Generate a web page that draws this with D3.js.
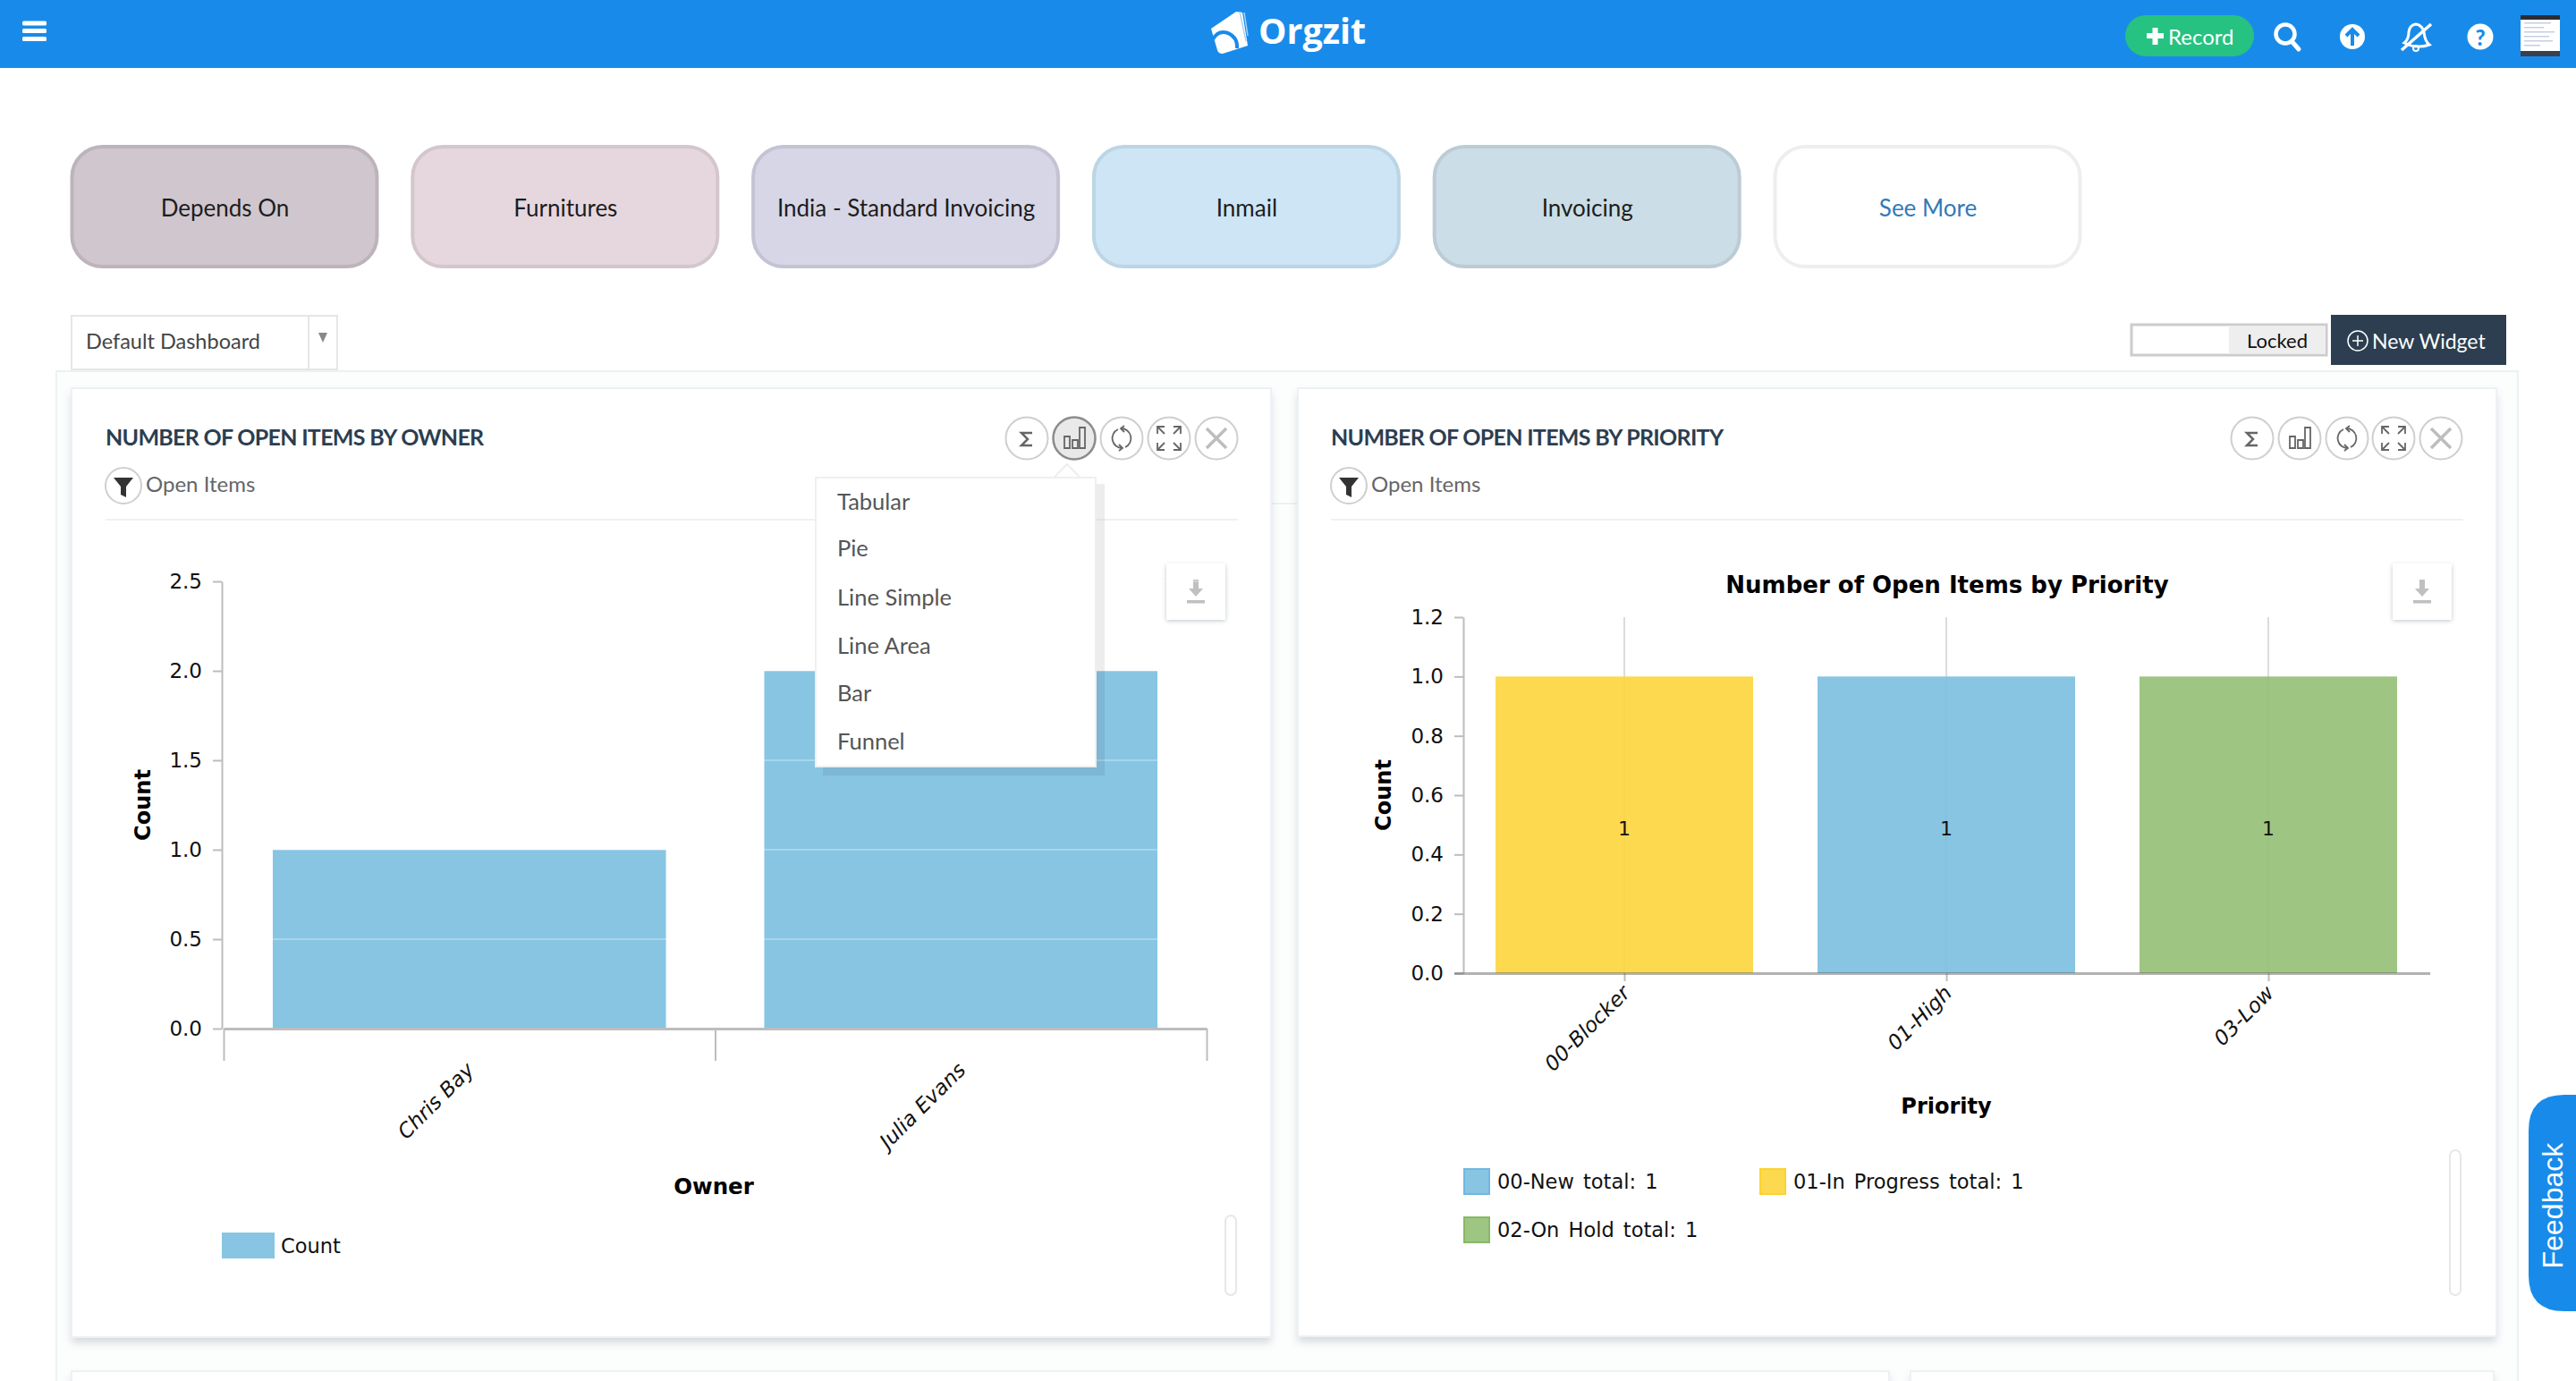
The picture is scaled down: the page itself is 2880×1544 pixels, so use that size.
<!DOCTYPE html>
<html>
<head>
<meta charset="utf-8">
<script src="https://cdn.jsdelivr.net/npm/d3@7/dist/d3.min.js"></script>
<style>
html,body{margin:0;padding:0;background:#fff;overflow:hidden}
svg{display:block}
.ui{font-family:Lato,sans-serif}
.ch{font-family:"DejaVu Sans",sans-serif}
</style>
</head>
<body>
<svg id="page" width="2880" height="1544" viewBox="0 0 2880 1544"></svg>
<script>
// ---- data ----
const tabNames = ["Depends On","Furnitures","India - Standard Invoicing","Inmail","Invoicing","See More"];
const menuItems = ["Tabular","Pie","Line Simple","Line Area","Bar","Funnel"];

const ownerCategories = ["Chris Bay","Julia Evans"];
const ownerCounts = [1,2];
const ownerLegend = ["Count"];

const priorityCategories = ["00-Blocker","01-High","03-Low"];
const priorityCounts = [1,1,1];
const priorityLegend = ["00-New total: 1","01-In Progress total: 1","02-On Hold total: 1"];

// ---- styles ----
const tabFill = ["#d0c6ce","#e6d7df","#d7d6e6","#cde5f5","#cbdde6","#ffffff"];
const tabEdge = ["#bdb3bb","#d3c6cd","#c4c3d4","#bcd5e4","#bccbd5","#eeeeee"];
const blue="#87c5e3", yellow="#fdd950", green="#9ec682";
const priorityColors=["#fdd53d","#7abfe0","#93c074"];
const legendColors=[blue,yellow,green];
const legendEdges=["#6fb9e0","#fdd22f","#88b868"];
const axisC="#bdbdbd";

const svg=d3.select("#page");
const defs=svg.append("defs");
function blurF(id,s){defs.append("filter").attr("id",id).attr("x","-20%").attr("y","-20%").attr("width","140%").attr("height","140%")
  .append("feGaussianBlur").attr("stdDeviation",s);}
blurF("sh6",5); blurF("sh3",2.5);
function rect(p,x,y,w,h,fill,o={}){const r=p.append("rect").attr("x",x).attr("y",y).attr("width",w).attr("height",h).attr("fill",fill);
  for(const k in o) r.attr(k,o[k]); return r;}
function text(p,x,y,t,o={}){const e=p.append("text").attr("x",x).attr("y",y).attr("dominant-baseline","central").text(t);
  for(const k in o) e.attr(k,o[k]); return e;}
function line(p,x1,y1,x2,y2,c,w){return p.append("line").attr("x1",x1).attr("y1",y1).attr("x2",x2).attr("y2",y2).attr("stroke",c).attr("stroke-width",w);}

// ---- header ----
const ui=svg.append("g").attr("class","ui");
rect(ui,0,0,2880,76,"#188bea");
[23.5,32,41].forEach(y=>rect(ui,25,y,27,5,"#fff",{rx:1.5}));
// logo
const logo=ui.append("g");
logo.append("path").attr("d","M1382 13 L1389 14 L1395 51 L1367 60 Q1362 60 1361 56 L1354 32 Z").attr("fill","#fff");
logo.append("path").attr("d","M1386 13 L1393 46 M1391 14 L1395 40").attr("stroke","#a9d3f5").attr("stroke-width",1.5).attr("fill","none");
logo.append("path").attr("d","M1356 44 Q1362 33 1373 37 Q1384 42 1383 54").attr("stroke","#188bea").attr("stroke-width",4).attr("fill","none");
text(ui,1407,34,"Orgzit",{fill:"#fff","font-family":"Open Sans","font-weight":700,"font-size":39.5});
// record pill
rect(ui,2376,17,144,46,"#26c281",{rx:23});
ui.append("path").attr("d","M2400 40 H2419 M2409.5 31 V50").attr("stroke","#fff").attr("stroke-width",6).attr("fill","none");
text(ui,2424,40,"Record",{fill:"#fff","font-size":24});
// search
ui.append("circle").attr("cx",2555).attr("cy",38).attr("r",10.5).attr("fill","none").attr("stroke","#fff").attr("stroke-width",4.5);
line(ui,2562,46,2570,55,"#fff",5).attr("stroke-linecap","round");
// upload
ui.append("circle").attr("cx",2630).attr("cy",41).attr("r",14).attr("fill","#fff");
ui.append("path").attr("d","M2630 51 V34 M2623 40 L2630 33 L2637 40").attr("stroke","#188bea").attr("stroke-width",4).attr("fill","none");
// bell
ui.append("path").attr("d","M2688 48 Q2693 44 2693 36 Q2694 28 2701 27 Q2708 28 2710 36 Q2711 46 2716 50 Q2702 55 2688 48 Z").attr("fill","none").attr("stroke","#fff").attr("stroke-width",3);
line(ui,2685,56,2718,27,"#fff",3.5);
ui.append("circle").attr("cx",2701).attr("cy",54).attr("r",3).attr("fill","none").attr("stroke","#fff").attr("stroke-width",2);
// help
ui.append("circle").attr("cx",2773).attr("cy",41).attr("r",14.5).attr("fill","#fff");
text(ui,2773,41,"?",{fill:"#188bea","font-size":24,"font-weight":900,"text-anchor":"middle"});
// thumbnail
rect(ui,2818,17,44,46,"#fff",{rx:3});
rect(ui,2818,17,44,5,"#2b2b33");
rect(ui,2818,57,44,6,"#39404d");
d3.range(6).forEach(i=>rect(ui,2822,25+i*5,[30,22,34,28,32,18][i],1.5,"#c5cfdf"));

// ---- tabs ----
const tabX=d3.scalePoint().domain(tabNames).range([79,1983]);
const tabs=ui.selectAll("g.tab").data(tabNames).join("g").attr("class","tab");
tabs.append("rect").attr("x",d=>tabX(d)+1.5).attr("y",164).attr("width",341).attr("height",134).attr("rx",34)
  .attr("fill",(d,i)=>tabFill[i]).attr("stroke",(d,i)=>tabEdge[i]).attr("stroke-width",4);
tabs.append("text").attr("x",d=>tabX(d)+172.5).attr("y",232).attr("text-anchor","middle").attr("dominant-baseline","central")
  .attr("font-size",26).attr("fill",(d,i)=>i===5?"#337ab7":"#1d1d1d").text(d=>d);

// ---- dashboard select + toolbar ----
rect(ui,80,353,297,60,"#fff",{stroke:"#e6e6e6","stroke-width":2});
line(ui,345,353,345,413,"#e6e6e6",2);
text(ui,96,380.5,"Default Dashboard",{"font-size":23.5,fill:"#444"});
ui.append("path").attr("d","M356 372 H366 L361 383 Z").attr("fill","#888");
rect(ui,2383,363,218,34,"#fff",{stroke:"#ccc","stroke-width":3});
rect(ui,2492,364.5,108,31,"#eeeeee");
text(ui,2546,380,"Locked",{"font-size":22,"text-anchor":"middle",fill:"#111"});
rect(ui,2606,352,196,56,"#2c3e50");
ui.append("circle").attr("cx",2636).attr("cy",381).attr("r",11).attr("fill","none").attr("stroke","#fff").attr("stroke-width",1.5);
ui.append("path").attr("d","M2630 381 H2642 M2636 375 V387").attr("stroke","#fff").attr("stroke-width",1.5);
text(ui,2652,381,"New Widget",{"font-size":23,fill:"#fff"});

// ---- container ----
rect(ui,63,415,2752,1140,"#fcfdfd",{stroke:"#edf1f5","stroke-width":2});
line(ui,1421,563,1451,563,"#edf1f5",2);
function card(x,y,w,h){
  rect(ui,x,y+6,w,h,"#8a96a3",{filter:"url(#sh6)",opacity:.35});
  rect(ui,x,y,w,h,"#fff",{stroke:"#edf1f5","stroke-width":2});
}
card(80,434,1341,1061);
card(1451,434,1340,1060);
card(80,1533,2032,60);
card(2136,1533,652,60);

// ---- widget header ----
function icons(cxs,activeIdx){
  const cy=490;
  cxs.forEach((cx,i)=>{
    const g=ui.append("g").attr("transform",`translate(${cx},${cy})`);
    g.append("circle").attr("r",23.5).attr("fill",i===activeIdx?"#e9e9e9":"#fff").attr("stroke",i===activeIdx?"#8c8c8c":"#cfcfcf").attr("stroke-width",i===activeIdx?2.5:2);
    const P=(d,w,c)=>g.append("path").attr("d",d).attr("fill","none").attr("stroke",c||"#666").attr("stroke-width",w||2);
    if(i===0)P("M6 -6 H-6 L1 1 L-6 8 H6",2.5);
    if(i===1){P("M-11 -2 h6 v13 h-6 Z M-2 2 h6 v9 h-6 Z M6 -12 h6 v23 h-6 Z",1.8);}
    if(i===2){P("M-4 -10 A11 11 0 0 0 1 11",1.8);P("M-3 7 L1 11 L-3 14",1.8);P("M4 10 A11 11 0 0 0 -1 -11",1.8);P("M3 -14 L-1 -11 L3 -7",1.8);}
    if(i===3){P("M-5 -13 H-13 V-5 M-13 -13 L-5 -5 M5 -13 H13 V-5 M13 -13 L5 -5 M-5 13 H-13 V5 M-13 13 L-5 5 M5 13 H13 V5 M13 13 L5 5",1.8);}
    if(i===4){P("M-11 -11 L11 11 M11 -11 L-11 11",3.5,"#bdbdbd");}
  });
}
icons([1148,1201,1254,1307,1360],1);
icons([2518,2571,2624,2676,2729],-1);
function widgetHead(x,title,divEnd){
  text(ui,x,487.5,title,{"font-size":25,"font-weight":700,fill:"#2c3e50","letter-spacing":-0.7});
  const g=ui.append("g").attr("transform",`translate(${x+20},543)`);
  g.append("circle").attr("r",20).attr("fill","#fff").attr("stroke","#cfcfcf").attr("stroke-width",2);
  g.append("path").attr("d","M-11 -9 H11 L3 1 V13 L-3 10 V1 Z").attr("fill","#333");
  text(ui,x+45,540.5,"Open Items",{"font-size":24,fill:"#666"});
  rect(ui,x,580,divEnd-x,2,"#eff1f6");
}
widgetHead(118,"NUMBER OF OPEN ITEMS BY OWNER",1384);
widgetHead(1488,"NUMBER OF OPEN ITEMS BY PRIORITY",2754);

function download(x){
  rect(ui,x,632,66,62,"#8a96a3",{filter:"url(#sh3)",opacity:.55});
  rect(ui,x,630,66,63,"#fff");
  const c=x+33;
  ui.append("path").attr("d",`M${c-3} 648 h6 v10 h5 l-8 9 l-8 -9 h5 Z`).attr("fill","#c0c0c0");
  rect(ui,c-10,671,20,3.5,"#c0c0c0");
}
function scrollbar(x,y,h){rect(ui,x+1,y,12,h,"#fff",{rx:6,stroke:"#e7e7e7","stroke-width":2});}

// ---- chart helpers ----
const ch=svg.append("g").attr("class","ch");
function styleAxis(g){g.selectAll("path,line").attr("stroke",axisC).attr("stroke-width",2);
  g.selectAll("text").attr("font-family","DejaVu Sans").attr("font-size",23).attr("fill","#111");}
function xLabels(g,x,cats,ty,dx){
  g.selectAll("text.xl").data(cats).join("text").attr("class","xl")
   .attr("transform",d=>`translate(${x(d)+x.bandwidth()/2+dx},${ty}) rotate(-45)`)
   .attr("text-anchor","end").attr("dominant-baseline","central")
   .attr("font-size",23).attr("font-style","italic").attr("fill","#111").text(d=>d);
}

// ---- chart 1: owner ----
{
  const r=[250,1349];
  const x=d3.scaleBand().domain(ownerCategories).range(r).paddingInner(.2).paddingOuter(.1);
  const y=d3.scaleLinear().domain([0,2.5]).range([1150,650]);
  const g=ch.append("g");
  g.selectAll("rect.bar").data(ownerCategories).join("rect").attr("class","bar")
    .attr("x",d=>x(d)).attr("width",x.bandwidth())
    .attr("y",(d,i)=>y(ownerCounts[i])).attr("height",(d,i)=>y(0)-y(ownerCounts[i]))
    .attr("fill",blue);
  // faint horizontal grid
  g.selectAll("line.grid").data(y.ticks(5)).join("line").attr("class","grid")
    .attr("x1",r[0]).attr("x2",r[1]).attr("y1",d=>y(d)).attr("y2",d=>y(d))
    .attr("stroke","#fff").attr("stroke-opacity",.28).attr("stroke-width",2);
  const ya=g.append("g").attr("transform","translate(248,0)")
    .call(d3.axisLeft(y).ticks(5).tickFormat(d3.format(".1f")).tickSize(10).tickSizeOuter(0).tickPadding(12));
  styleAxis(ya);
  const edges=d3.scalePoint().domain(d3.range(ownerCategories.length+1)).range(r);
  const xa=g.append("g").attr("transform","translate(0,1150)")
    .call(d3.axisBottom(edges).tickSize(36).tickSizeOuter(0).tickFormat(""));
  styleAxis(xa);
  xa.select(".domain").attr("stroke-width",3);
  xLabels(g,x,ownerCategories,1192,1);
  text(g,798,1326,"Owner",{"font-size":24.5,"font-weight":700,"text-anchor":"middle",fill:"#000"});
  text(g,0,0,"Count",{"font-size":24,"font-weight":700,"text-anchor":"middle",fill:"#000",transform:"translate(160,900) rotate(-90)"});
  g.selectAll("rect.lg").data(ownerLegend).join("rect").attr("class","lg")
    .attr("x",248).attr("y",1378).attr("width",59).attr("height",29).attr("fill",blue);
  g.selectAll("text.lgt").data(ownerLegend).join("text").attr("class","lgt")
    .attr("x",314).attr("y",1393).attr("dominant-baseline","central").attr("font-size",22.5).attr("fill","#111").text(d=>d);
  download(1304);
  scrollbar(1369,1359,89);
}

// ---- chart 2: priority ----
{
  const r=[1636,2716];
  const x=d3.scaleBand().domain(priorityCategories).range(r).paddingInner(.2).paddingOuter(.1);
  const y=d3.scaleLinear().domain([0,1.2]).range([1088,690]);
  const g=ch.append("g");
  text(g,2177,654,"Number of Open Items by Priority",{"font-size":26,"font-weight":700,"text-anchor":"middle",fill:"#000"});
  g.selectAll("line.vg").data(priorityCategories).join("line").attr("class","vg")
    .attr("x1",d=>x(d)+x.bandwidth()/2).attr("x2",d=>x(d)+x.bandwidth()/2)
    .attr("y1",y.range()[1]).attr("y2",y(0))
    .attr("stroke","#dcdcdc").attr("stroke-width",2);
  g.selectAll("rect.bar").data(priorityCategories).join("rect").attr("class","bar")
    .attr("x",d=>x(d)).attr("width",x.bandwidth())
    .attr("y",(d,i)=>y(priorityCounts[i])).attr("height",(d,i)=>y(0)-y(priorityCounts[i]))
    .attr("fill",(d,i)=>priorityColors[i]).attr("fill-opacity",.9);
  const ya=g.append("g").attr("transform","translate(1636,0)")
    .call(d3.axisLeft(y).ticks(6).tickFormat(d3.format(".1f")).tickSize(10).tickSizeOuter(0).tickPadding(12));
  styleAxis(ya);
  const xa=g.append("g").attr("transform","translate(0,1088)")
    .call(d3.axisBottom(d3.scalePoint().domain(priorityCategories).range([x(priorityCategories[0])+x.bandwidth()/2,x(priorityCategories[2])+x.bandwidth()/2])).tickSize(9).tickSizeOuter(0).tickFormat(""));
  styleAxis(xa);
  xa.select(".domain").remove();
  line(g,1626,1088.5,2717,1088.5,"#666",3).attr("stroke-opacity",.5);
  xLabels(g,x,priorityCategories,1106,2);
  g.selectAll("text.dl").data(priorityCategories).join("text").attr("class","dl")
    .attr("x",d=>x(d)+x.bandwidth()/2).attr("y",(d,i)=>y(priorityCounts[i]/2)+4)
    .attr("text-anchor","middle").attr("dominant-baseline","central").attr("font-size",22).attr("fill","#111").text((d,i)=>priorityCounts[i]);
  text(g,2176,1237,"Priority",{"font-size":24,"font-weight":700,"text-anchor":"middle",fill:"#000"});
  text(g,0,0,"Count",{"font-size":24,"font-weight":700,"text-anchor":"middle",fill:"#000",transform:"translate(1547,889) rotate(-90)"});
  const lx=[1636,1967,1636], ly=[1306,1306,1360];
  g.selectAll("rect.lg").data(priorityLegend).join("rect").attr("class","lg")
    .attr("x",(d,i)=>lx[i]+1).attr("y",(d,i)=>ly[i]+1).attr("width",28).attr("height",28)
    .attr("fill",(d,i)=>legendColors[i]).attr("stroke",(d,i)=>legendEdges[i]).attr("stroke-width",2);
  g.selectAll("text.lgt").data(priorityLegend).join("text").attr("class","lgt")
    .attr("x",(d,i)=>lx[i]+38).attr("y",(d,i)=>ly[i]+15).attr("dominant-baseline","central")
    .attr("font-size",22.5).attr("word-spacing",3).attr("fill","#111").text(d=>d);
  download(2675);
  scrollbar(2738,1286,162);
}

// ---- popup menu (above chart 1) ----
const popup=svg.append("g").attr("class","ui");
rect(popup,920,541,315,326,"#000",{opacity:.07});
rect(popup,912,534,313,323,"#fff",{stroke:"#efefef","stroke-width":2});
popup.append("path").attr("d","M1179 533 L1193 519 L1207 533").attr("fill","#fff").attr("stroke","#eeeeee").attr("stroke-width",2);
const menuY=[560,612,667,721,774,828];
popup.selectAll("text.m").data(menuItems).join("text").attr("class","m")
  .attr("x",936).attr("y",(d,i)=>menuY[i]).attr("dominant-baseline","central")
  .attr("font-size",25.5).attr("fill","#555").text(d=>d);

// ---- feedback tab ----
const fb=svg.append("g");
fb.append("path").attr("d","M2880 1224 H2867 Q2827 1224 2827 1264 V1426 Q2827 1466 2867 1466 H2880 Z").attr("fill","#188bea");
text(fb,0,0,"Feedback",{"font-family":"Liberation Sans","font-size":32,"text-anchor":"middle",fill:"#fff",transform:"translate(2854,1348) rotate(-90)"});
</script>
</body>
</html>
